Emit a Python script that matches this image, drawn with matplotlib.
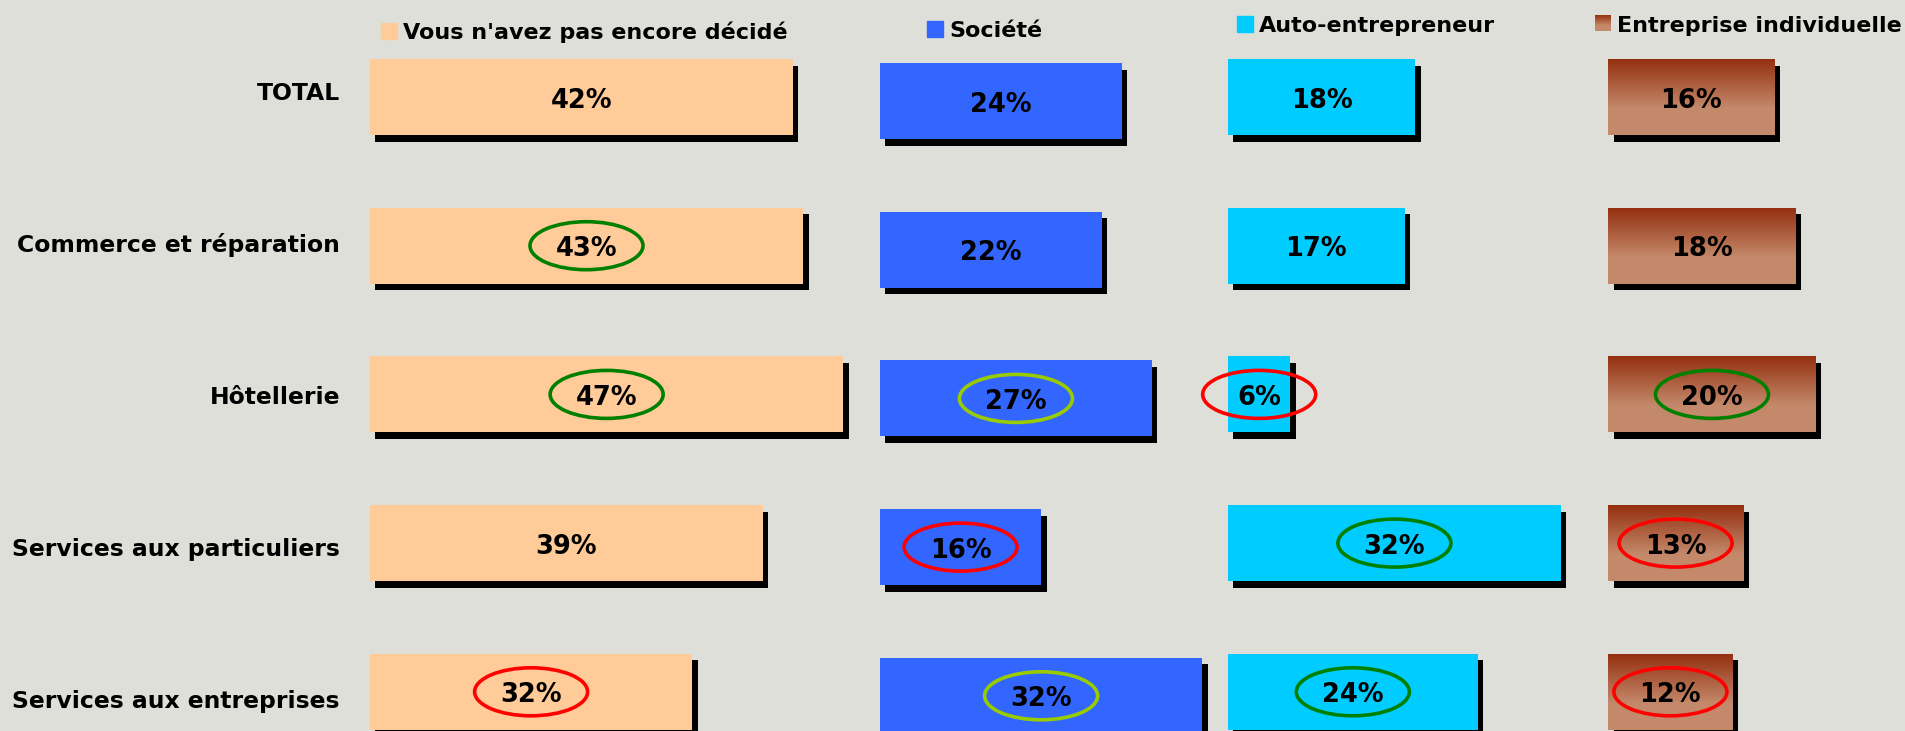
import numpy as np
import matplotlib
matplotlib.use("Agg")
import matplotlib.pyplot as plt
from matplotlib.patches import Ellipse, Rectangle
from matplotlib.colors import to_rgb

# ---------------- data ----------------
categories = ["TOTAL", "Commerce et réparation", "Hôtellerie",
              "Services aux particuliers", "Services aux entreprises"]
series_names = ["Vous n'avez pas encore décidé", "Société",
                "Auto-entrepreneur", "Entreprise individuelle"]
undecided = [42, 43, 47, 39, 32]
societe = [24, 22, 27, 16, 32]
auto_entrepreneur = [18, 17, 6, 32, 24]
individuelle = [16, 18, 20, 13, 12]
# highlight rings: g = green, y = yellow-green, r = red, None = no ring
hl_undecided = [None, "g", "g", None, "r"]
hl_societe = [None, None, "y", "r", "y"]
hl_auto = [None, None, "r", "g", "g"]
hl_individuelle = [None, None, "g", "r", "r"]

# ---------------- style ----------------
BG = "#DFDFD9"
COLORS = ["#FFCC99", "#3366FF", "#00CCFF", "#B8785A"]
RING = {"g": "#008000", "y": "#99CC00", "r": "#FF0000"}
BROWN_TOP = "#943010"
BROWN_BOT = "#C4896B"

W, H = 1906, 731
ROW0, ROW_STEP, BAR_PX = 97.0, 148.7, 76.0
# panel layout in pixels: left, width, px per percent, vertical offset
PANELS = [(370, 500, 10.07, 0), (880, 340, 10.07, 4),
          (1228, 380, 10.4, 0), (1608, 298, 10.4, 0)]
LEGEND = [(381, 31), (927, 29), (1237, 23.5), (1595, 23.5)]

series = [undecided, societe, auto_entrepreneur, individuelle]
highlights = [hl_undecided, hl_societe, hl_auto, hl_individuelle]

plt.rcParams["font.family"] = ["DejaVu Sans"]
fig = plt.figure(figsize=(W / 100, H / 100), dpi=100)
fig.patch.set_facecolor(BG)

# brown gradient image
n = 200
t = np.clip(np.linspace(0, 1, n) / 0.65, 0, 1)[:, None]
top, bot = np.array(to_rgb(BROWN_TOP)), np.array(to_rgb(BROWN_BOT))
grad = (top[None, :] * (1 - t) + bot[None, :] * t)[:, None, :]

rows = np.arange(len(categories))
for k, ((left, width, ppp, off), vals, hls) in enumerate(zip(PANELS, series, highlights)):
    ax = fig.add_axes([left / W, 0, width / W, 1])
    ax.patch.set_visible(False)
    ax.axis("off")
    xlim = (0, width / ppp)
    ylim = ((H - ROW0 - off) / ROW_STEP, (0 - ROW0 - off) / ROW_STEP)
    bh = BAR_PX / ROW_STEP
    sdx, sdy = 5.5 / ppp, 6.5 / ROW_STEP
    ax.barh(rows + sdy, vals, left=sdx, height=bh, color="black", zorder=1)
    bars = ax.barh(rows, vals, height=bh, color=COLORS[k], zorder=2)
    if k == 3:
        for i, (p, v) in enumerate(zip(bars.patches, vals)):
            im = ax.imshow(grad, extent=[0, v, i + bh / 2, i - bh / 2],
                           aspect="auto", zorder=2.5, interpolation="bilinear")
            im.set_clip_path(p)
    for i, v in enumerate(vals):
        ax.text(v / 2, i + 10.5 / ROW_STEP, f"{v}%", ha="center", va="baseline",
                fontsize=18.5, fontweight="bold", color="black", zorder=4)
        if hls[i]:
            ax.add_patch(Ellipse((v / 2, i), width=113 / ppp, height=48 / ROW_STEP,
                                 fill=False, edgecolor=RING[hls[i]], lw=2.6,
                                 zorder=5, clip_on=False))
    ax.set_xlim(*xlim)
    ax.set_ylim(*ylim)

# overlay for legend and category labels
ov = fig.add_axes([0, 0, 1, 1])
ov.patch.set_visible(False)
ov.axis("off")
ov.set_xlim(0, W)
ov.set_ylim(H, 0)

for k, ((lx, ly), name) in enumerate(zip(LEGEND, series_names)):
    if k == 3:
        ov.imshow(grad, extent=[lx, lx + 16, ly + 8, ly - 8], aspect="auto",
                  interpolation="bilinear")
    else:
        ov.add_patch(Rectangle((lx, ly - 8), 16, 16, color=COLORS[k]))
    ov.text(lx + 22, ly + 8, name, ha="left", va="baseline",
            fontsize=16.0, fontweight="bold", color="black")

for i, c in enumerate(categories):
    ov.text(340, 91 + 152.2 * i + 8.5, c, ha="right", va="baseline",
            fontsize=16.9, fontweight="bold", color="black")

ov.set_xlim(0, W)
ov.set_ylim(H, 0)

fig.savefig("out.png", dpi=100, facecolor=BG)
